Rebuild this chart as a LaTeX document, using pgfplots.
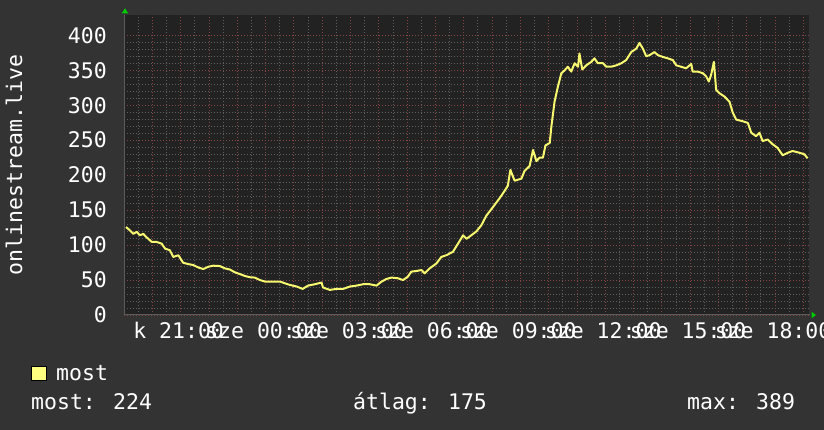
\documentclass[border=0pt]{standalone}
\usepackage{pgfplots}
\pgfplotsset{compat=1.18}
\usepackage{fontspec}
\setmainfont{DejaVu Sans Mono}
\definecolor{bgc}{HTML}{333333}
\definecolor{plotbg}{HTML}{222222}
\definecolor{mingrid}{HTML}{5E5E5E}
\definecolor{majgrid}{HTML}{854545}
\definecolor{linec}{HTML}{F8F870}
\definecolor{legc}{HTML}{FFFF80}
\definecolor{arrowc}{HTML}{00CC00}
\begin{document}
\begin{tikzpicture}[x=1pt,y=1pt]
\fill[bgc] (0,0) rectangle (824,430);
\path[use as bounding box] (0,0) rectangle (824,430);
\begin{axis}[
  at={(124pt,115pt)}, anchor=south west,
  scale only axis, width=685pt, height=300pt,
  xmin=-5, xmax=19.2, ymin=0, ymax=429,
  axis background/.style={fill=plotbg},
  axis line style={draw=none},
  xtick={-5,...,19},
  xticklabels={,,k 21:00,,,sze 00:00,,,sze 03:00,,,sze 06:00,,,sze 09:00,,,sze 12:00,,,sze 15:00,,,sze 18:00,},
  ytick={0,50,...,400},
  minor x tick num=1, minor y tick num=4,
  major tick length=0pt, minor tick length=0pt,
  grid=both,
  minor grid style={mingrid, line width=0.8pt, dash pattern=on 1pt off 2pt},
  major grid style={majgrid, line width=0.8pt, dash pattern=on 1pt off 2pt},
  /pgf/number format/assume math mode=true,
  tick label style={font=\fontsize{21.5}{25}\selectfont, white, inner sep=0pt},
  yticklabel style={anchor=east, xshift=-17pt},
  xticklabel style={anchor=base, yshift=-24pt, xshift=-2pt},
  clip=true,
]
\addplot[linec, line width=2pt, line join=round] coordinates {
(-4.93,125.8)(-4.79,121)(-4.67,116)(-4.55,119)(-4.44,114)(-4.32,116)(-4.20,111)
(-4.02,104.5)(-3.85,104.5)(-3.67,102)(-3.55,95)(-3.38,92.6)(-3.26,83)(-3.08,85.5)
(-2.91,74.7)(-2.73,72.8)(-2.55,71.4)(-2.38,68)(-2.20,65.7)(-2.02,69)(-1.85,70.5)
(-1.61,70)(-1.44,66.7)(-1.26,65)(-1.08,61)(-0.91,58.6)(-0.73,55.8)(-0.55,54)
(-0.38,53.5)(-0.20,50)(-0.02,47.8)(0.15,47.8)(0.33,47.8)(0.51,47.8)(0.68,45.4)
(0.86,43)(1.10,40.7)(1.31,37.3)(1.50,42)(1.74,44)(1.98,46.4)(2.03,39.3)(2.27,35.9)
(2.51,37.3)(2.74,37.3)(2.98,40.7)(3.21,42)(3.45,44)(3.68,44)(3.92,42)(4.10,47.8)
(4.27,51.5)(4.45,53.5)(4.68,52.5)(4.86,50)(5.03,54.9)(5.15,62)(5.33,62.9)(5.51,64.3)
(5.62,59.6)(5.80,66.7)(6.04,73.8)(6.21,83)(6.39,85.5)(6.62,90.3)(6.80,102)(6.98,114)
(7.10,109)(7.27,114)(7.45,119.6)(7.62,128)(7.80,142)(8.03,154)(8.27,167)(8.45,177.7)
(8.56,184.8)(8.65,207.5)(8.80,192)(9.04,195)(9.15,206)(9.33,213)(9.45,236)(9.57,220)
(9.68,225)(9.80,225)(9.89,242.5)(10.04,246)(10.10,270)(10.21,305)(10.33,326.7)
(10.45,345.7)(10.57,350)(10.68,355)(10.80,348)(10.92,360)(11.04,355)(11.09,374)
(11.19,351)(11.33,357)(11.51,362)(11.62,367)(11.74,360)(11.92,360)(12.04,355)
(12.21,355)(12.39,357)(12.57,360)(12.74,364.5)(12.92,376)(13.10,381)(13.21,389)
(13.33,381)(13.45,370)(13.57,371.6)(13.74,376)(13.86,371.6)(14.04,369)(14.21,367)
(14.39,364.5)(14.51,357)(14.68,355)(14.86,352.8)(15.04,359)(15.09,348)(15.27,348)
(15.45,345.7)(15.57,341)(15.66,333.8)(15.74,343)(15.84,362)(15.92,322)(16.04,317)
(16.21,312.5)(16.39,305)(16.51,289)(16.63,279.4)(16.86,277)(17.04,274.7)(17.16,260.6)
(17.33,255.7)(17.45,260.6)(17.56,248.7)(17.74,251)(17.92,244)(18.09,239)(18.27,228.4)
(18.45,232)(18.62,234.5)(18.86,232)(19.04,229.8)(19.15,224)
};
\end{axis}
\draw[color=white!20!bgc, line width=1pt] (124,115) -- (124,415);
\draw[color=white!20!bgc, line width=1pt] (124,115) -- (810,115);
\fill[arrowc] (125,421.7) -- (121.7,416.5) -- (128.3,416.5) -- cycle;
\fill[arrowc] (816,115) -- (811.5,111.7) -- (811.5,118.3) -- cycle;
\node[rotate=90, anchor=base, white, inner sep=0pt, font=\fontsize{21.5}{25}\selectfont] at (22,265) {onlinestream.live};
\fill[legc, draw=black, line width=1pt] (31.5,49.5) rectangle (46.5,63.5);
\node[anchor=base west, white, inner sep=0pt, font=\fontsize{21.5}{25}\selectfont] at (56,49) {most};
\node[anchor=base west, white, inner sep=0pt, font=\fontsize{21.5}{25}\selectfont] at (31,20) {most: 224};
\node[anchor=base west, white, inner sep=0pt, font=\fontsize{21.5}{25}\selectfont] at (353,20) {átlag: 175};
\node[anchor=base west, white, inner sep=0pt, font=\fontsize{21.5}{25}\selectfont] at (687,20) {max: 389};
\end{tikzpicture}
\end{document}
